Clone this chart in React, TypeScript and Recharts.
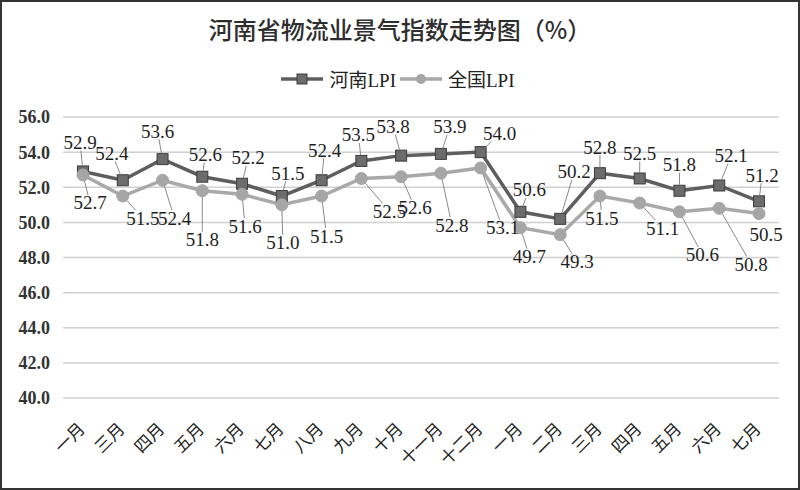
import React from 'react';
import { LineChart, Line, XAxis, YAxis, CartesianGrid, Legend, LabelList } from 'recharts';

const months = ['一月', '三月', '四月', '五月', '六月', '七月', '八月', '九月', '十月', '十一月', '十二月', '一月', '二月', '三月', '四月', '五月', '六月', '七月'];
const henanLPI = [52.9, 52.4, 53.6, 52.6, 52.2, 51.5, 52.4, 53.5, 53.8, 53.9, 54.0, 50.6, 50.2, 52.8, 52.5, 51.8, 52.1, 51.2];
const nationalLPI = [52.7, 51.5, 52.4, 51.8, 51.6, 51.0, 51.5, 52.5, 52.6, 52.8, 53.1, 49.7, 49.3, 51.5, 51.1, 50.6, 50.8, 50.5];
const yTicks = [40, 42, 44, 46, 48, 50, 52, 54, 56];
const seriesOrder = ['henan', 'national'];

// label placement offsets (dx, dy) relative to each point
const henanLabelOffsets: [number, number][] = [
  [-3, -29], [-11, -27], [-5, -28], [3, -22], [6, -26], [6, -23], [3, -30], [-3, -26], [-8, -29],
  [9, -27], [19, -19], [9, -22], [14, -47], [0, -26], [0, -25], [0, -26], [12, -30], [3, -26],
];
const nationalLabelOffsets: [number, number][] = [
  [7, 28], [20, 22], [12, 38], [0, 49], [3, 32], [1, 38], [5, 40], [28, 33], [14, 31],
  [11, 52], [22, 60], [9, 29], [17, 27], [2, 22], [23, 25], [23, 43], [32, 56], [7, 21],
];

const data = months.map((m, i) => ({ idx: i, henan: henanLPI[i], national: nationalLPI[i] }));

const HENAN_LINE = '#5e5e5e';
const HENAN_MARK = '#6c6c6c';
const NAT_LINE = '#a9a9a9';
const NAT_MARK = '#a6a6a6';
const SERIF = '"Liberation Serif", "Noto Sans CJK SC", serif';

const makeLabel = (offsets: [number, number][]) => (props: any) => {
  const { x, y, value, index } = props;
  if (x == null || y == null) return null;
  const [dx, dy] = offsets[index];
  const cx = x + dx;
  const cy = y + dy;
  const hw = 18;
  const hh = 8;
  const f = Math.max(Math.abs(dx) / hw, Math.abs(dy) / hh);
  let leader = null;
  if (f > 1) {
    const sx = cx - dx / f;
    const sy = cy - dy / f;
    const len = Math.hypot(sx - x, sy - y);
    if (len > 14) {
      const ex = x + ((sx - x) * 6) / len;
      const ey = y + ((sy - y) * 6) / len;
      leader = <line x1={sx} y1={sy} x2={ex} y2={ey} stroke="#8a8a8a" strokeWidth={1} />;
    }
  }
  return (
    <g>
      {leader}
      <text x={cx} y={cy} textAnchor="middle" dominantBaseline="central" fontSize={19} fontFamily={SERIF} fill="#1e1e1e">
        {Number(value).toFixed(1)}
      </text>
    </g>
  );
};

const SquareDot = (props: any) => {
  const { cx, cy } = props;
  if (cx == null || cy == null) return null;
  return <rect x={cx - 5.5} y={cy - 5.5} width={11} height={11} fill={HENAN_MARK} stroke="#3c3c3c" strokeWidth={1} />;
};

const CircleDot = (props: any) => {
  const { cx, cy } = props;
  if (cx == null || cy == null) return null;
  return <circle cx={cx} cy={cy} r={6} fill={NAT_MARK} stroke={NAT_MARK} strokeWidth={1} />;
};

const XTick = (props: any) => {
  const { x, y, payload } = props;
  return (
    <g transform={`translate(${x + 3},${y + 24}) rotate(-45)`}>
      <text textAnchor="end" fontSize={17} fontFamily='"Noto Sans CJK SC", sans-serif' fill="#222">
        {months[payload.value]}
      </text>
    </g>
  );
};

const LegendContent = (props: any) => {
  const payload = [...(props.payload || [])].sort(
    (a: any, b: any) => seriesOrder.indexOf(a.dataKey) - seriesOrder.indexOf(b.dataKey)
  );
  return (
    <div style={{ display: 'flex', justifyContent: 'center', alignItems: 'center', width: 800 }}>
      {payload.map((p: any) => {
        const isHenan = p.dataKey === 'henan';
        return (
          <div key={p.dataKey} style={{ display: 'flex', alignItems: 'center', marginRight: 4 }}>
            <svg width={42} height={16} style={{ marginRight: 6 }}>
              <line x1={0} y1={8} x2={42} y2={8} stroke={isHenan ? HENAN_LINE : NAT_LINE} strokeWidth={3.5} />
              {isHenan ? (
                <rect x={16} y={3} width={10} height={10} fill={HENAN_MARK} stroke="#3c3c3c" strokeWidth={1} />
              ) : (
                <circle cx={21} cy={8} r={5} fill={NAT_MARK} />
              )}
            </svg>
            <span style={{ fontSize: 19, fontFamily: SERIF, color: '#222' }}>{p.value}</span>
          </div>
        );
      })}
    </div>
  );
};

export default function App() {
  return (
    <div style={{ position: 'absolute', left: 0, top: 0, width: 800, height: 490, background: '#fff' }}>
      <div
        style={{
          position: 'absolute',
          top: 11,
          left: 0,
          width: 800,
          textAlign: 'center',
          fontSize: 24,
          fontFamily: '"Noto Sans CJK SC", sans-serif',
          color: '#2e2e2e',
          fontWeight: 500,
          zIndex: 2,
        }}
      >
        河南省物流业景气指数走势图（%）
      </div>
      <LineChart width={800} height={490} data={data} margin={{ top: 117, right: 21, bottom: 22, left: 8 }}>
        <CartesianGrid horizontal vertical={false} stroke="#d0d0d0" strokeWidth={1.5} />
        <XAxis
          dataKey="idx"
          type="category"
          axisLine={false}
          tickLine={false}
          height={70}
          interval={0}
          padding={{ left: 20, right: 20 }}
          tick={<XTick />}
        />
        <YAxis
          domain={[40, 56]}
          ticks={yTicks}
          axisLine={false}
          tickLine={false}
          width={55}
          tickMargin={7}
          tickFormatter={(v: number) => v.toFixed(1)}
          tick={{ fontSize: 18, fontFamily: SERIF, fontWeight: 700, fill: '#333' }}
        />
        <Legend
          layout="horizontal"
          verticalAlign="middle"
          align="center"
          wrapperStyle={{ top: 65, left: 0, width: 800 }}
          content={<LegendContent />}
        />
        <Line
          dataKey="henan"
          name="河南LPI"
          stroke={HENAN_LINE}
          strokeWidth={3.5}
          dot={<SquareDot />}
          activeDot={false}
          isAnimationActive={false}
        >
          <LabelList dataKey="henan" content={makeLabel(henanLabelOffsets)} />
        </Line>
        <Line
          dataKey="national"
          name="全国LPI"
          stroke={NAT_LINE}
          strokeWidth={3.5}
          dot={<CircleDot />}
          activeDot={false}
          isAnimationActive={false}
        >
          <LabelList dataKey="national" content={makeLabel(nationalLabelOffsets)} />
        </Line>
      </LineChart>
      <div
        style={{
          position: 'absolute',
          left: 0,
          top: 0,
          width: 800,
          height: 490,
          boxSizing: 'border-box',
          border: '2px solid #333',
          pointerEvents: 'none',
        }}
      />
    </div>
  );
}
